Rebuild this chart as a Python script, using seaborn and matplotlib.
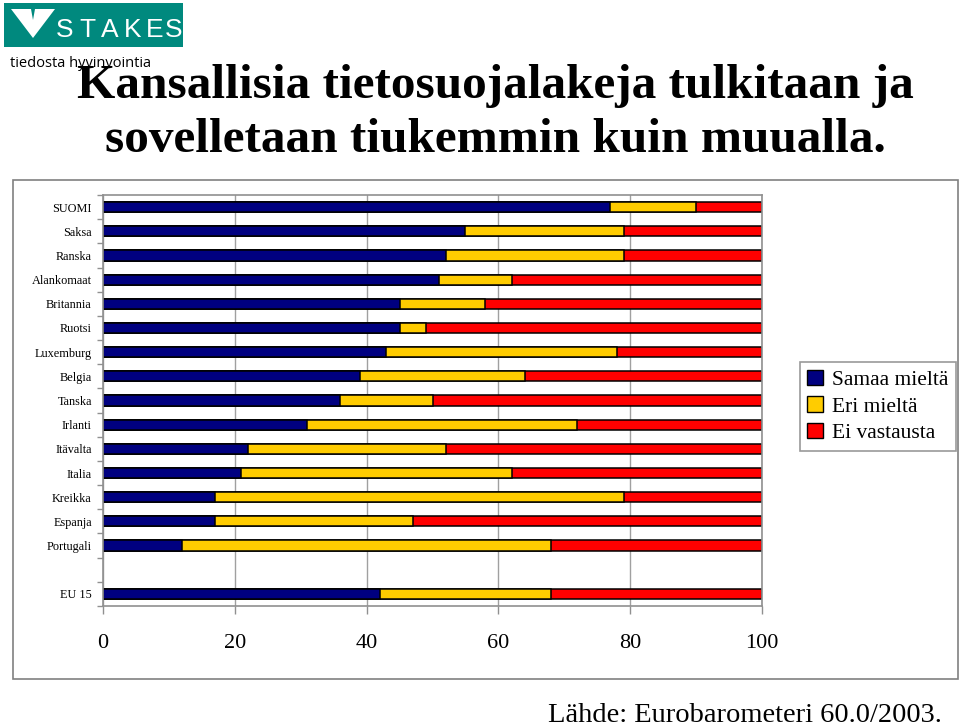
import matplotlib
matplotlib.use("Agg")
import matplotlib.pyplot as plt
import matplotlib.patches as mpatches
import numpy as np
import pandas as pd
import seaborn as sns

# ---------------- data ----------------
countries = ["SUOMI", "Saksa", "Ranska", "Alankomaat", "Britannia", "Ruotsi",
             "Luxemburg", "Belgia", "Tanska", "Irlanti", "Itävalta", "Italia",
             "Kreikka", "Espanja", "Portugali", "EU 15"]
samaa = [77, 55, 52, 51, 45, 45, 43, 39, 36, 31, 22, 21, 17, 17, 12, 42]
eri = [13, 24, 27, 11, 13, 4, 35, 25, 14, 41, 30, 41, 62, 30, 56, 26]
ei = [10, 21, 21, 38, 42, 51, 22, 36, 50, 28, 48, 38, 21, 53, 32, 32]
series_names = ["Samaa mieltä", "Eri mieltä", "Ei vastausta"]
xticks = [0, 20, 40, 60, 80, 100]

title1 = "Kansallisia tietosuojalakeja tulkitaan ja"
title2 = "sovelletaan tiukemmin kuin muualla."
source = "Lähde: Eurobarometeri 60.0/2003."

colors = ["#000080", "#FFCC00", "#FF0000"]

df = pd.DataFrame({"country": countries, "samaa": samaa, "eri": eri, "ei": ei})
df["c1"] = df["samaa"]
df["c2"] = df["samaa"] + df["eri"]
df["c3"] = df["samaa"] + df["eri"] + df["ei"]

order = countries[:-1] + [" "] + countries[-1:]

sns.set_theme(style="white")
plt.rcParams["font.family"] = ["Liberation Serif", "DejaVu Serif"]
plt.rcParams["text.color"] = "black"
plt.rcParams["xtick.labelcolor"] = "black"
plt.rcParams["ytick.labelcolor"] = "black"

fig = plt.figure(figsize=(9.6, 7.27), dpi=100)
W, H = 960, 727

# chart frame
fig.patches.append(mpatches.Rectangle((13 / W, 1 - 679 / H), 945 / W, 499 / H,
                                      transform=fig.transFigure, fill=False,
                                      edgecolor="#808080", linewidth=1.2))

ax = fig.add_axes([103 / W, 1 - 606 / H, 659 / W, 411 / H])

for col, c in zip(["c3", "c2", "c1"], colors[::-1]):
    sns.barplot(data=df, x=col, y="country", order=order, orient="h",
                color=c, saturation=1, edgecolor="black", linewidth=1.1,
                width=0.42, errorbar=None, ax=ax)

ax.set_xlim(0, 100)
ax.set_ylim(len(order) - 0.5, -0.5)
ax.set_xlabel("")
ax.set_ylabel("")
ax.set_xticks(xticks)
ax.set_xticklabels([str(t) for t in xticks], fontsize=16)
ax.grid(axis="x", color="#a0a0a0", linewidth=1.0)
ax.set_axisbelow(True)
for s in ax.spines.values():
    s.set_color("#909090")
    s.set_linewidth(1.2)
ax.tick_params(axis="x", bottom=True, direction="out", length=6, width=1,
               color="#909090", pad=14)
ax.tick_params(axis="y", which="major", left=False, length=0, pad=8, labelsize=8.8)
ax.set_yticks(np.arange(len(order) + 1) - 0.5, minor=True)
ax.tick_params(axis="y", which="minor", left=True, direction="out", length=4,
               width=1, color="#909090")

# legend
handles = [mpatches.Patch(facecolor=c, edgecolor="black", linewidth=1) for c in colors]
leg = fig.legend(handles, series_names, loc="center",
                 bbox_to_anchor=(798 / W, 1 - 457 / H, 160 / W, 101 / H),
                 frameon=True, fancybox=False, fontsize=15.5, handlelength=0.7,
                 handleheight=0.7, handletextpad=0.45, labelspacing=0.3,
                 borderpad=0.35, borderaxespad=0)
leg.get_frame().set_edgecolor("#808080")
leg.get_frame().set_linewidth(1.2)

# titles
fig.text(495 / W, 1 - 98 / H, title1, ha="center", va="baseline",
         fontsize=35.5, fontweight="bold")
fig.text(495 / W, 1 - 152 / H, title2, ha="center", va="baseline",
         fontsize=35.5, fontweight="bold")
fig.text(548 / W, 1 - 722 / H, source, ha="left", va="baseline", fontsize=20.5)

# logo
teal = "#00897E"
fig.patches.append(mpatches.Rectangle((4 / W, 1 - 47 / H), 179 / W, 44 / H,
                                      transform=fig.transFigure, facecolor=teal,
                                      edgecolor="none"))
vpts = np.array([[11, 9], [31, 9], [33, 20], [35, 9], [55, 9], [33, 38]])
fig.patches.append(mpatches.Polygon(np.column_stack([vpts[:, 0] / W, 1 - vpts[:, 1] / H]),
                                    closed=True, transform=fig.transFigure,
                                    facecolor="white", edgecolor="none"))
for ch, cx in zip("STAKES", [65, 87, 110, 133, 155, 174]):
    fig.text(cx / W, 1 - 37 / H, ch, ha="center", va="baseline", color="white",
             fontsize=19, family=["Liberation Sans", "DejaVu Sans"])
fig.text(10 / W, 1 - 67 / H, "tiedosta hyvinvointia", ha="left", va="baseline",
         fontsize=10.5, family=["Open Sans", "DejaVu Sans"], color="black")

fig.savefig("out.png", dpi=100)
